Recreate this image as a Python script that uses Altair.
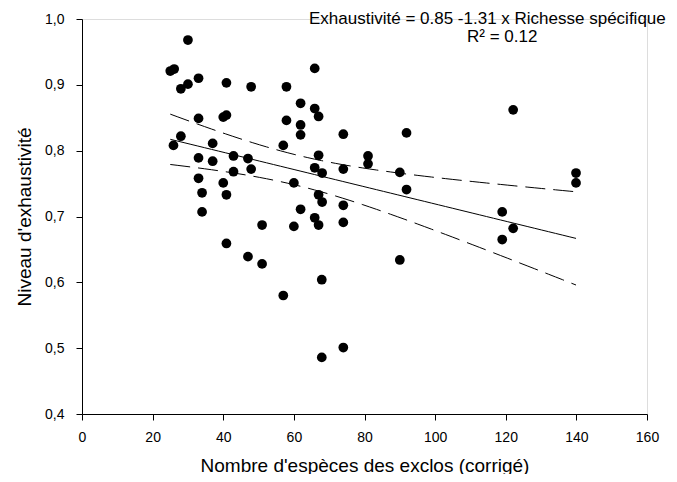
import altair as alt
import numpy as np
import pandas as pd

# Data
richesse = [25.0, 26.1, 30.0, 28.0, 30.0, 33.0, 40.9, 47.9, 57.9, 33.0,
            40.0, 40.9, 57.9, 25.9, 28.0, 37.0, 57.0, 33.0, 37.0, 42.9,
            47.0, 42.9, 47.9, 60.0, 33.0, 40.0, 34.0, 40.9, 34.0, 61.9,
            51.0, 60.0, 40.9, 47.0, 51.0, 57.0, 65.9, 61.9, 65.9, 67.0,
            122.1, 61.9, 61.9, 74.0, 91.9, 67.0, 81.0, 81.0, 65.9, 68.0,
            74.0, 90.0, 139.9, 139.9, 91.9, 67.0, 68.0, 74.0, 119.0, 65.9,
            74.0, 67.0, 122.1, 119.0, 90.0, 67.9, 74.0, 67.9]
exhaustivite = [0.921, 0.924, 0.968, 0.894, 0.901, 0.910, 0.903, 0.897, 0.897, 0.849,
                0.851, 0.854, 0.846, 0.808, 0.822, 0.811, 0.808, 0.789, 0.784, 0.792,
                0.788, 0.768, 0.772, 0.751, 0.758, 0.751, 0.736, 0.733, 0.707, 0.711,
                0.687, 0.685, 0.659, 0.639, 0.628, 0.580, 0.925, 0.872, 0.864, 0.852,
                0.862, 0.839, 0.824, 0.825, 0.827, 0.793, 0.792, 0.780, 0.774, 0.766,
                0.772, 0.767, 0.766, 0.751, 0.741, 0.733, 0.722, 0.717, 0.707, 0.698,
                0.691, 0.687, 0.682, 0.665, 0.634, 0.604, 0.501, 0.486]

# Regression coefficients as printed on the chart (slope in units of 1e-3)
intercept = 0.85
slope = -1.31e-3

x_ticks = [0, 20, 40, 60, 80, 100, 120, 140, 160]
y_ticks = [0.4, 0.5, 0.6, 0.7, 0.8, 0.9, 1.0]
eq_line1 = "Exhaustivité = 0.85 -1.31 x Richesse spécifique"
eq_line2 = "R² = 0.12"

FONT = "Liberation Sans"

pts = pd.DataFrame({"x": richesse, "y": exhaustivite})

# Fitted line from the printed equation, 95% confidence band from the data
xa = np.array(richesse)
ya = np.array(exhaustivite)
n = len(xa)
resid = ya - (intercept + slope * xa)
s = np.sqrt(np.sum(resid ** 2) / (n - 2))
t = 1.997
xs = np.linspace(xa.min(), xa.max(), 60)
fit = intercept + slope * xs
se = s * np.sqrt(1.0 / n + (xs - xa.mean()) ** 2 / np.sum((xa - xa.mean()) ** 2))
band = pd.DataFrame({"x": xs, "fit": fit, "lo": fit - t * se, "hi": fit + t * se})

xscale = alt.Scale(domain=[0, 160], nice=False, zero=False)
yscale = alt.Scale(domain=[0.4, 1.0], nice=False, zero=False)

common = dict(grid=False, tickSize=6, labelFontSize=14, titleFontSize=19,
              labelFont=FONT, titleFont=FONT, labelColor="black", titleColor="black",
              domainColor="black", tickColor="black", titleFontWeight="normal",
              labelFlush=False)
xaxis = alt.Axis(values=x_ticks, title="Nombre d'espèces des exclos (corrigé)",
                 labelPadding=10, titlePadding=12, **common)
yaxis = alt.Axis(values=y_ticks, title="Niveau d'exhaustivité",
                 labelExpr="replace(format(datum.value, '.1f'), '.', ',')",
                 labelPadding=12, titlePadding=10, **common)

points = alt.Chart(pts).mark_circle(size=95, color="black", opacity=1).encode(
    x=alt.X("x:Q", scale=xscale, axis=xaxis),
    y=alt.Y("y:Q", scale=yscale, axis=yaxis),
)

base = alt.Chart(band)
fit_line = base.mark_line(color="black", strokeWidth=1).encode(
    x=alt.X("x:Q", scale=xscale), y=alt.Y("fit:Q", scale=yscale))
hi_line = base.mark_line(color="black", strokeWidth=1, strokeDash=[20, 8]).encode(
    x=alt.X("x:Q", scale=xscale), y=alt.Y("hi:Q", scale=yscale))
lo_line = base.mark_line(color="black", strokeWidth=1, strokeDash=[20, 8]).encode(
    x=alt.X("x:Q", scale=xscale), y=alt.Y("lo:Q", scale=yscale))

ann = pd.DataFrame({"x": [114.8, 119.0], "y": [1.0, 0.972], "t": [eq_line1, eq_line2]})
text = alt.Chart(ann).mark_text(font=FONT, fontSize=17, color="black",
                                align="center", baseline="middle").encode(
    x=alt.X("x:Q", scale=xscale), y=alt.Y("y:Q", scale=yscale), text="t:N")

chart = alt.layer(points, fit_line, hi_line, lo_line, text).properties(
    width=565, height=395,
    autosize=alt.AutoSizeParams(type="none"),
    padding={"left": 74, "top": 11, "right": 22, "bottom": 60},
).configure_view(stroke=None).configure(background="white")

chart.save("out.html", embed_options={"renderer": "svg", "actions": False})
